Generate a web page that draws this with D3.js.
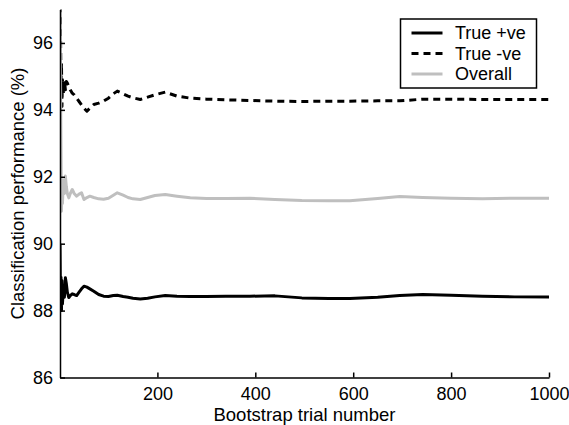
<!DOCTYPE html>
<html>
<head>
<meta charset="utf-8">
<script src="https://cdn.jsdelivr.net/npm/d3@7"></script>
<style>
  body { margin: 0; background: #fff; }
  svg { display: block; font-family: Helvetica, Arial, "Liberation Sans", sans-serif; }
  .axis text { font-size: 18px; fill: #000; }
  .axis path, .axis line { stroke: #000; stroke-width: 1.5; }
  .axis-label { font-size: 18.5px; fill: #000; }
  .legend text { font-size: 18px; fill: #000; }
</style>
</head>
<body>
<div id="viewportContainer"></div>
<script>
/* --- データ --- */
const trials = [1, 2, 3, 4, 5, 6, 8, 10, 12, 14, 16, 19, 22, 26, 30, 35, 40, 45, 50, 56,
    62, 70, 80, 90, 100, 110, 118, 130, 140, 150, 165, 180, 195, 216, 240, 267, 300, 340, 389, 440,
    495, 550, 593, 650, 695, 742, 800, 864, 930, 1000];

const truePos = [90.0, 88.1, 89.0, 88.0, 88.9, 88.2, 88.7, 88.4, 88.98, 88.8, 88.55, 88.39, 88.45, 88.5, 88.48, 88.45, 88.55, 88.65, 88.73, 88.7,
    88.65, 88.58, 88.48, 88.43, 88.42, 88.45, 88.46, 88.42, 88.4, 88.37, 88.35, 88.37, 88.41, 88.45, 88.43, 88.42, 88.42, 88.43, 88.43, 88.44,
    88.38, 88.36, 88.36, 88.4, 88.45, 88.48, 88.46, 88.43, 88.41, 88.41];

const trueNeg = [100, 96.3, 94.9, 95.4, 94.1, 94.9, 94.5, 94.9, 94.6, 94.85, 94.8, 94.7, 94.6, 94.5, 94.45, 94.35, 94.25, 94.15, 94.05, 93.96,
    94.05, 94.16, 94.2, 94.26, 94.35, 94.48, 94.56, 94.48, 94.41, 94.36, 94.31, 94.38, 94.45, 94.53, 94.41, 94.35, 94.32, 94.3, 94.28, 94.26,
    94.25, 94.26, 94.26, 94.27, 94.27, 94.32, 94.32, 94.31, 94.31, 94.31];

const overall = [97.5, 95.0, 93.0, 90.97, 91.8, 91.2, 91.9, 91.5, 92.02, 91.7, 91.5, 91.37, 91.5, 91.62, 91.5, 91.42, 91.48, 91.52, 91.32, 91.38,
    91.42, 91.38, 91.34, 91.33, 91.36, 91.45, 91.52, 91.45, 91.38, 91.34, 91.32, 91.38, 91.44, 91.47, 91.42, 91.37, 91.35, 91.35, 91.36, 91.32,
    91.29, 91.28, 91.28, 91.35, 91.41, 91.38, 91.36, 91.34, 91.36, 91.36];

const seriesNames = ["True +ve", "True -ve", "Overall"];
const xTicks = [200, 400, 600, 800, 1000];
const yTicks = [86, 88, 90, 92, 94, 96];

/* --- ビューポート --- */
const viewport = {width: 569, height: 425};
const plot = {left: 60, right: 549, top: 9.5, bottom: 377.5};

const styles = {
    "True +ve": {stroke: "#000", dash: null},
    "True -ve": {stroke: "#000", dash: "7,5"},
    "Overall": {stroke: "#bfbfbf", dash: null}
};

const svg = d3.select("#viewportContainer").append("svg")
    .attr("width", viewport.width)
    .attr("height", viewport.height);

/*--- スケール ---*/
const xScale = d3.scaleLinear().domain([1, 1000]).range([plot.left, plot.right]);
const yScale = d3.scaleLinear().domain([86, 97]).range([plot.bottom, plot.top]);

svg.append("clipPath").attr("id", "plotClip")
    .append("rect")
    .attr("x", plot.left).attr("y", plot.top)
    .attr("width", plot.right - plot.left).attr("height", plot.bottom - plot.top);

/*--- 線 ---*/
const series = [
    {name: seriesNames[0], values: truePos},
    {name: seriesNames[1], values: trueNeg},
    {name: seriesNames[2], values: overall}
];

const line = d3.line()
    .x((d, i) => xScale(trials[i]))
    .y(d => yScale(d));

const lineGroup = svg.append("g").attr("clip-path", "url(#plotClip)");
series.forEach(s => {
    lineGroup.append("path")
        .datum(s.values)
        .attr("fill", "none")
        .attr("stroke", styles[s.name].stroke)
        .attr("stroke-width", 3)
        .attr("stroke-dasharray", styles[s.name].dash)
        .attr("stroke-linejoin", "round")
        .attr("d", line);
});

/*--- 軸 ---*/
const xAxis = d3.axisBottom(xScale).tickValues(xTicks).tickFormat(d3.format("d"))
    .tickSizeInner(-5).tickSizeOuter(0).tickPadding(10);
const yAxis = d3.axisLeft(yScale).tickValues(yTicks).tickFormat(d3.format("d"))
    .tickSizeInner(-5).tickSizeOuter(0).tickPadding(7);

svg.append("g")
    .attr("class", "x axis")
    .attr("transform", "translate(0," + plot.bottom + ")")
    .call(xAxis);

svg.append("g")
    .attr("class", "y axis")
    .attr("transform", "translate(" + plot.left + ",0)")
    .call(yAxis);

svg.selectAll(".axis").attr("font-family", null).attr("font-size", null);

/*--- 軸ラベル ---*/
svg.append("text")
    .attr("class", "axis-label")
    .attr("text-anchor", "middle")
    .attr("x", (plot.left + plot.right) / 2)
    .attr("y", 421)
    .text("Bootstrap trial number");

svg.append("text")
    .attr("class", "axis-label")
    .attr("text-anchor", "middle")
    .attr("transform", "rotate(-90)")
    .attr("x", -(plot.top + plot.bottom) / 2)
    .attr("y", 24)
    .text("Classification performance (%)");

/*--- 凡例 ---*/
const legend = svg.append("g").attr("class", "legend");
legend.append("rect")
    .attr("x", 400.5).attr("y", 19)
    .attr("width", 136).attr("height", 69)
    .attr("fill", "#fff").attr("stroke", "#000").attr("stroke-width", 1.5);

series.forEach((s, i) => {
    const y = 33 + i * 20.5;
    legend.append("line")
        .attr("x1", 411.5).attr("x2", 442.5)
        .attr("y1", y).attr("y2", y)
        .attr("stroke", styles[s.name].stroke)
        .attr("stroke-width", 3)
        .attr("stroke-dasharray", styles[s.name].dash);
    legend.append("text")
        .attr("x", 455).attr("y", y)
        .attr("dy", "0.35em")
        .text(s.name);
});
</script>
</body>
</html>
